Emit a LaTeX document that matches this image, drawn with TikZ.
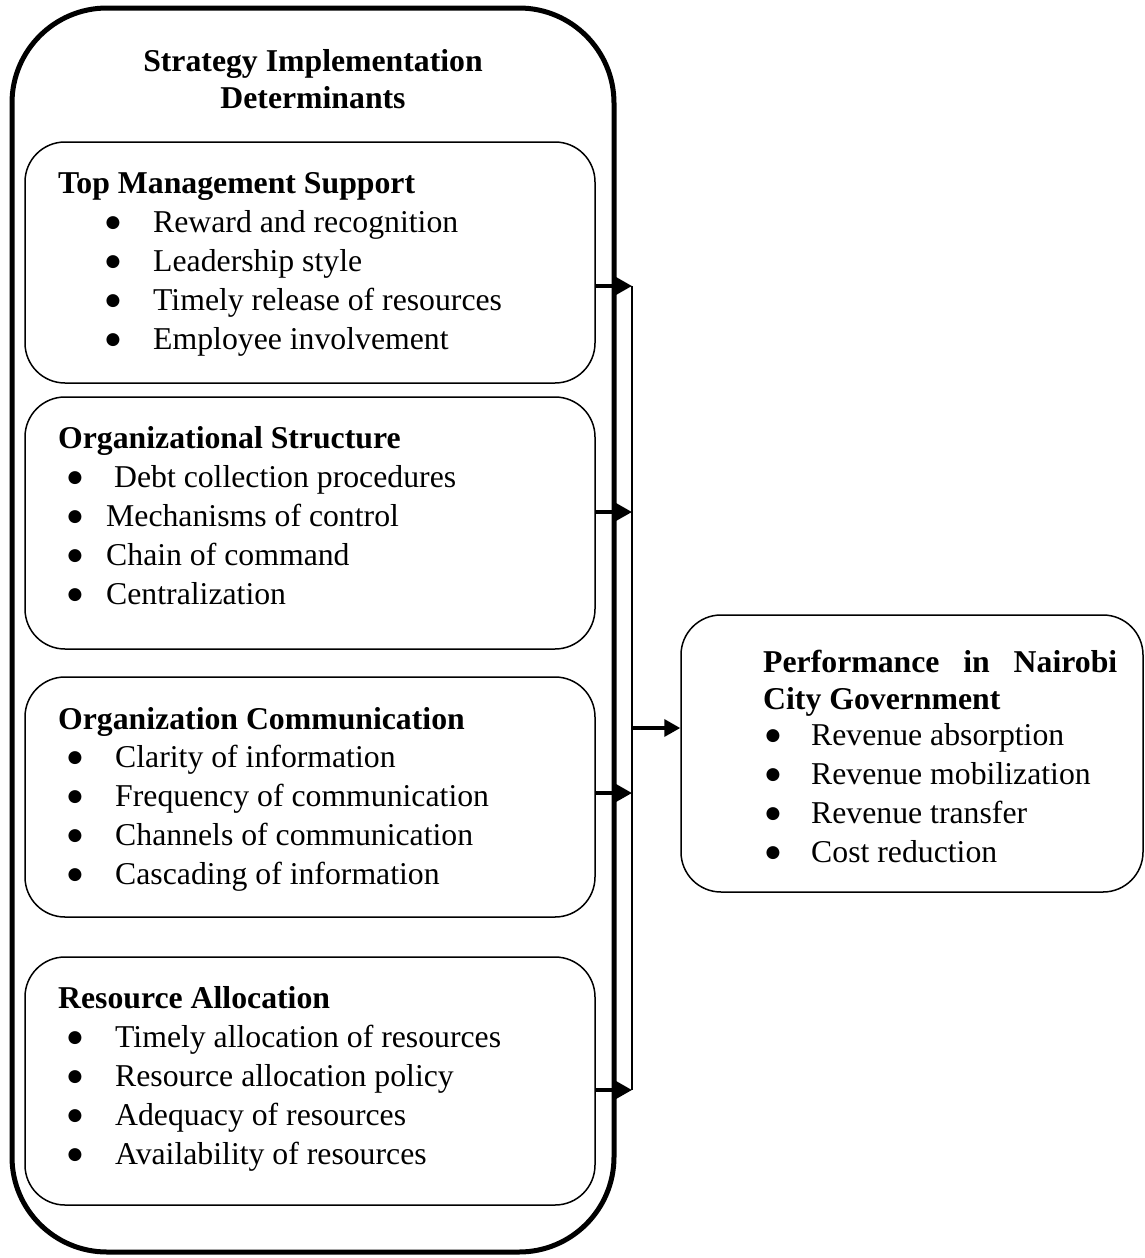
\documentclass[tikz,border=0pt]{standalone}
\usepackage{fontspec}
\setmainfont{Liberation Serif}
\newfontfamily\dvs{DejaVu Sans}
\usetikzlibrary{arrows.meta}
\begin{document}
\begin{tikzpicture}[x=1pt,y=-1pt,
  box/.style={draw, line width=1.5pt, rounded corners=40pt, inner sep=0pt},
  txt/.style={anchor=base west, inner sep=0pt, font=\fontsize{31.75}{38}\selectfont},
  hd/.style={anchor=base west, inner sep=0pt, font=\fontsize{31.75}{38}\selectfont\bfseries},
  bul/.style={anchor=base, inner sep=0pt, font=\dvs\fontsize{17}{17}\selectfont},
  arr/.style={line width=3.5pt, -{Triangle[length=16pt,width=17pt]}},
  bus/.style={line width=1.5pt}
]
\useasboundingbox (0,0) rectangle (1145,1258);

% outer container
\node[draw, line width=5pt, rounded corners=95pt, minimum width=602pt, minimum height=1244pt, inner sep=0pt] (outer) at (313,630) {};
\node[hd, anchor=base] (title1) at (313,71) {Strategy Implementation};
\node[hd, anchor=base] (title2) at (313,108) {Determinants};

% inner boxes
\node[box, minimum width=570pt, minimum height=241pt] (box1) at (310,262.5) {};
\node[box, minimum width=570pt, minimum height=252pt] (box2) at (310,523) {};
\node[box, minimum width=570pt, minimum height=240pt] (box3) at (310,797) {};
\node[box, minimum width=570pt, minimum height=248pt] (box4) at (310,1081) {};

% box 1
\node[hd] (h1) at (58,193) {Top Management Support};
\foreach \t [count=\i] in {Reward and recognition, Leadership style, Timely release of resources, Employee involvement}{
  \node[bul] (d1-\i) at (113,{232-5+39*(\i-1)}) {●};
  \node[txt] (l1-\i) at (153,{232+39*(\i-1)}) {\t};
}
% box 2
\node[hd] (h2) at (58,448) {Organizational Structure};
\foreach \t [count=\i] in {\ Debt collection procedures, Mechanisms of control, Chain of command, Centralization}{
  \node[bul] (d2-\i) at (75,{487-5+39.3*(\i-1)}) {●};
  \node[txt] (l2-\i) at (106,{487+39.3*(\i-1)}) {\t};
}
% box 3
\node[hd] (h3) at (58,729) {Organization Communication};
\foreach \t [count=\i] in {Clarity of information, Frequency of communication, Channels of communication, Cascading of information}{
  \node[bul] (d3-\i) at (75,{767-5+39*(\i-1)}) {●};
  \node[txt] (l3-\i) at (115,{767+39*(\i-1)}) {\t};
}
% box 4
\node[hd] (h4) at (58,1008) {Resource Allocation};
\foreach \t [count=\i] in {Timely allocation of resources, Resource allocation policy, Adequacy of resources, Availability of resources}{
  \node[bul] (d4-\i) at (75,{1047-5+39*(\i-1)}) {●};
  \node[txt] (l4-\i) at (115,{1047+39*(\i-1)}) {\t};
}

% outcome box
\node[box, minimum width=462pt, minimum height=277pt] (perf) at (912,753.5) {};
\node[hd] (h5a) at (763,672) {\hbox to 354pt{Performance\hfill in\hfill Nairobi}};
\node[hd] (h5b) at (763,709) {City Government};
\foreach \t [count=\i] in {Revenue absorption, Revenue mobilization, Revenue transfer, Cost reduction}{
  \node[bul] (d5-\i) at (773,{745-5+39*(\i-1)}) {●};
  \node[txt] (l5-\i) at (811,{745+39*(\i-1)}) {\t};
}

% connectors
\coordinate (c1) at (632,286);
\coordinate (c2) at (632,512);
\coordinate (c3) at (632,793);
\coordinate (c4) at (632,1090);
\coordinate (c5) at (632,728);
\draw[bus] (c1) -- (c4);
\draw[arr] (box1.east |- c1) -- (c1);
\draw[arr] (box2.east |- c2) -- (c2);
\draw[arr] (box3.east |- c3) -- (c3);
\draw[arr] (box4.east |- c4) -- (c4);
\draw[arr] (c5) -- (c5 -| perf.west);
\end{tikzpicture}
\end{document}
